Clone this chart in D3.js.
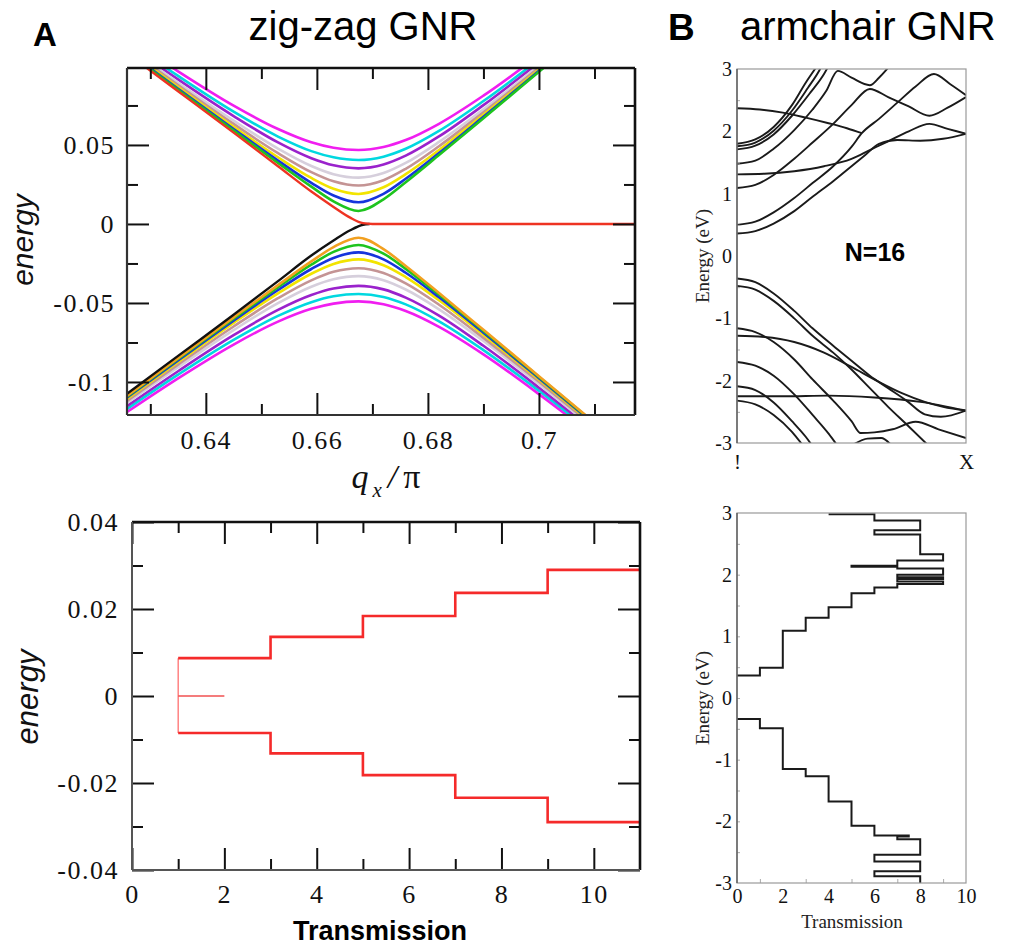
<!DOCTYPE html>
<html><head><meta charset="utf-8">
<script src="https://cdn.jsdelivr.net/npm/d3@7"></script>
<style>body{margin:0;background:#fff;}svg{display:block;}</style>
</head><body>
<svg id="c" width="1010" height="951"></svg>
<script>
// ---------- Panel A (top): zig-zag GNR band structure ----------
const zzQ = [0.6258, 0.635, 0.645, 0.653, 0.659, 0.663, 0.6675, 0.672, 0.676, 0.682, 0.690, 0.700, 0.710, 0.7173];
const cbGreen   = [0.1087,0.0849,0.0591,0.0386,0.0236,0.0143,0.0082,0.0156,0.0264,0.0436,0.0669,0.0963,0.1257,0.1471];
const cbBlue    = [0.1093,0.0856,0.0601,0.0401,0.0260,0.0180,0.0137,0.0191,0.0286,0.0449,0.0678,0.0969,0.1261,0.1475];
const cbYellow  = [0.1101,0.0866,0.0615,0.0422,0.0291,0.0223,0.0190,0.0232,0.0315,0.0468,0.0691,0.0978,0.1268,0.1481];
const cbBrown   = [0.1111,0.0879,0.0633,0.0448,0.0328,0.0270,0.0243,0.0277,0.0349,0.0492,0.0707,0.0989,0.1277,0.1489];
const cbLav     = [0.1123,0.0894,0.0654,0.0477,0.0367,0.0315,0.0293,0.0322,0.0386,0.0519,0.0726,0.1003,0.1288,0.1498];
const cbPurple  = [0.1140,0.0915,0.0683,0.0516,0.0416,0.0371,0.0352,0.0376,0.0432,0.0554,0.0752,0.1022,0.1302,0.1511];
const cbCyan    = [0.1157,0.0937,0.0711,0.0553,0.0461,0.0422,0.0405,0.0426,0.0476,0.0589,0.0778,0.1041,0.1318,0.1524];
const cbMagenta = [0.1181,0.0966,0.0749,0.0601,0.0517,0.0482,0.0468,0.0487,0.0531,0.0634,0.0812,0.1067,0.1338,0.1542];
const vbOrange  = [-0.1088,-0.0849,-0.0591,-0.0387,-0.0237,-0.0146,-0.0087,-0.0159,-0.0266,-0.0437,-0.0670,-0.0963,-0.1257,-0.1472];
const vbGreen   = [-0.1092,-0.0855,-0.0600,-0.0400,-0.0258,-0.0177,-0.0133,-0.0188,-0.0284,-0.0448,-0.0677,-0.0968,-0.1261,-0.1475];
const vbBlue    = [-0.1099,-0.0864,-0.0612,-0.0418,-0.0285,-0.0215,-0.0180,-0.0224,-0.0309,-0.0464,-0.0688,-0.0976,-0.1267,-0.1480];
const vbYellow  = [-0.1107,-0.0874,-0.0626,-0.0439,-0.0315,-0.0253,-0.0224,-0.0261,-0.0336,-0.0483,-0.0701,-0.0985,-0.1274,-0.1486];
const vbBrown   = [-0.1120,-0.0890,-0.0649,-0.0470,-0.0357,-0.0303,-0.0280,-0.0310,-0.0376,-0.0511,-0.0721,-0.0999,-0.1285,-0.1495];
const vbLav     = [-0.1133,-0.0907,-0.0672,-0.0501,-0.0397,-0.0350,-0.0330,-0.0356,-0.0415,-0.0540,-0.0741,-0.1014,-0.1297,-0.1506];
const vbPurple  = [-0.1153,-0.0932,-0.0704,-0.0544,-0.0450,-0.0409,-0.0392,-0.0414,-0.0466,-0.0580,-0.0771,-0.1036,-0.1314,-0.1520];
const vbCyan    = [-0.1171,-0.0954,-0.0734,-0.0582,-0.0495,-0.0458,-0.0443,-0.0462,-0.0509,-0.0616,-0.0798,-0.1056,-0.1330,-0.1534];
const vbMagenta = [-0.1190,-0.0977,-0.0763,-0.0618,-0.0537,-0.0504,-0.0490,-0.0508,-0.0551,-0.0651,-0.0825,-0.1077,-0.1346,-0.1549];
const edgeRedQ   = [0.6258,0.635,0.645,0.653,0.659,0.663,0.666,0.6683,0.670,0.7173];
const edgeRed    = [0.1080,0.0840,0.0578,0.0365,0.0205,0.0108,0.0040,0.0005,0,0];
const edgeBlackQ = [0.6258,0.635,0.645,0.653,0.659,0.663,0.666,0.6683,0.6695];
const edgeBlack  = [-0.1075,-0.0835,-0.0575,-0.0362,-0.0200,-0.0105,-0.0040,-0.0005,0];
const zzXMajor = [0.64,0.66,0.68,0.70];
const zzXLabels = ["0.64","0.66","0.68","0.7"];
const zzXMinor = [0.63,0.65,0.67,0.69,0.71];
const zzYMajor = [-0.1,-0.05,0,0.05];
const zzYLabels = ["-0.1","-0.05","0","0.05"];
const zzYMinor = [-0.075,-0.025,0.025,0.075];

// ---------- Panel A (bottom): zig-zag transmission ----------
const ztUpper = [[1,0.0087],[3,0.0087],[3,0.0136],[5,0.0136],[5,0.0184],[7,0.0184],[7,0.0237],[9,0.0237],[9,0.029],[11,0.029]];
const ztLower = [[1,-0.0085],[3,-0.0085],[3,-0.0132],[5,-0.0132],[5,-0.0182],[7,-0.0182],[7,-0.0234],[9,-0.0234],[9,-0.029],[11,-0.029]];
const ztRise  = [[1,-0.0085],[1,0.0087]];
const ztZero  = [[1,0],[2,0]];
const ztXMajor = [0,2,4,6,8,10];
const ztXLabels = ["0","2","4","6","8","10"];
const ztXMinor = [1,3,5,7,9];
const ztYMajor = [-0.04,-0.02,0,0.02,0.04];
const ztYLabels = ["-0.04","-0.02","0","0.02","0.04"];
const ztYMinor = [-0.03,-0.01,0.01,0.03];

// ---------- Panel B (top): armchair GNR bands, N=16 ----------
const acU1 = [[0,0.36],[0.08,0.40],[0.16,0.52],[0.25,0.72],[0.33,0.95],[0.42,1.20],[0.50,1.44],[0.56,1.62],[0.62,1.80],[0.70,1.86],[0.80,1.85],[0.90,1.88],[1.0,1.96]];
const acU2 = [[0,0.50],[0.08,0.55],[0.16,0.70],[0.25,0.93],[0.33,1.17],[0.42,1.44],[0.50,1.75],[0.545,1.97],[0.62,2.20],[0.70,2.46],[0.78,2.72],[0.86,2.92],[0.93,2.76],[1.0,2.58]];
const acU3 = [[0,1.09],[0.08,1.14],[0.16,1.30],[0.25,1.56],[0.33,1.82],[0.42,2.12],[0.50,2.42],[0.58,2.68],[0.66,2.55],[0.75,2.40],[0.84,2.25],[0.92,2.38],[1.0,2.55]];
const acU4 = [[0,1.31],[0.12,1.32],[0.25,1.36],[0.38,1.44],[0.50,1.56],[0.58,1.70],[0.66,1.84],[0.75,2.0],[0.84,2.12],[0.92,2.04],[1.0,1.96]];
const acU5 = [[0,1.48],[0.08,1.53],[0.16,1.72],[0.25,2.02],[0.33,2.35],[0.39,2.65],[0.44,2.97],[0.50,2.86],[0.58,2.74],[0.62,2.86],[0.66,3.02]];
const acU6 = [[0,1.71],[0.08,1.77],[0.16,1.95],[0.24,2.25],[0.32,2.62],[0.38,2.92],[0.40,3.05]];
const acU7 = [[0,1.76],[0.08,1.82],[0.16,2.01],[0.24,2.33],[0.31,2.70],[0.36,2.98],[0.37,3.05]];
const acU8 = [[0,1.80],[0.08,1.87],[0.16,2.07],[0.24,2.42],[0.30,2.78],[0.35,3.05]];
const acU9 = [[0,2.37],[0.10,2.35],[0.20,2.30],[0.30,2.22],[0.40,2.13],[0.48,2.05],[0.545,1.97]];
const acV1 = [[0,-0.36],[0.08,-0.42],[0.16,-0.60],[0.25,-0.88],[0.33,-1.16],[0.42,-1.44],[0.50,-1.68],[0.58,-1.92],[0.66,-2.12],[0.74,-2.32],[0.82,-2.54],[0.89,-2.58],[1.0,-2.48]];
const acV2 = [[0,-0.48],[0.08,-0.54],[0.16,-0.72],[0.25,-1.0],[0.33,-1.28],[0.42,-1.55],[0.50,-1.82],[0.58,-2.12],[0.66,-2.42],[0.74,-2.70],[0.83,-3.02]];
const acV3 = [[0,-1.16],[0.08,-1.22],[0.16,-1.38],[0.25,-1.66],[0.33,-1.98],[0.42,-2.32],[0.50,-2.65],[0.54,-2.84],[0.60,-2.83],[0.68,-2.78],[0.78,-2.66],[0.88,-2.78],[1.0,-2.92]];
const acV4 = [[0,-1.28],[0.12,-1.30],[0.25,-1.38],[0.38,-1.55],[0.50,-1.78],[0.62,-2.02],[0.72,-2.20],[0.82,-2.34],[0.90,-2.42],[1.0,-2.48]];
const acV5 = [[0,-1.70],[0.08,-1.76],[0.16,-1.92],[0.25,-2.22],[0.33,-2.55],[0.40,-2.85],[0.44,-3.05]];
const acV6 = [[0,-2.09],[0.08,-2.15],[0.16,-2.35],[0.24,-2.65],[0.30,-2.90],[0.33,-3.05]];
const acV7 = [[0,-2.25],[0.20,-2.25],[0.40,-2.24],[0.60,-2.27],[0.80,-2.34],[1.0,-2.48]];
const acV8 = [[0,-2.32],[0.08,-2.38],[0.16,-2.55],[0.24,-2.82],[0.29,-3.05]];
const acV9 = [[0.51,-3.02],[0.57,-2.93],[0.63,-2.92],[0.67,-3.02]];
const acYTicks = [-3,-2,-1,0,1,2,3];
const acYLabels = ["-3","-2","-1","0","1","2","3"];
const acXTicks = [0,1];
const acXLabels = ["!","X"];

// ---------- Panel B (bottom): armchair transmission ----------
const trUpper = [[0,0.364],[1,0.364],[1,0.49],[2,0.49],[2,1.09],[3,1.09],[3,1.30],[4,1.30],[4,1.47],[5,1.47],[5,1.70],[6,1.70],[6,1.79],[7,1.79],[7,1.85],[9,1.85],[9,1.89],[7,1.89],[7,1.93],[9,1.93],[9,1.96],[7,1.96],[7,2.0],[9,2.0],[9,2.10],[7,2.10],[7,2.13],[5,2.13],[5,2.145],[7,2.145],[7,2.23],[9,2.23],[9,2.33],[8,2.33],[8,2.65],[6,2.65],[6,2.72],[8,2.72],[8,2.88],[6,2.88],[6,2.98],[4,2.98]];
const trLower = [[0,-0.34],[1,-0.34],[1,-0.49],[2,-0.49],[2,-1.15],[3,-1.15],[3,-1.27],[4,-1.27],[4,-1.68],[5,-1.68],[5,-2.07],[6,-2.07],[6,-2.23],[7.5,-2.23],[7.5,-2.245],[7,-2.245],[7,-2.29],[8,-2.29],[8,-2.54],[6,-2.54],[6,-2.65],[8,-2.65],[8,-2.81],[6,-2.81],[6,-2.89],[8,-2.89],[8,-3.0]];
const trXTicks = [0,2,4,6,8,10];
const trXLabels = ["0","2","4","6","8","10"];
const trXMinor = [1,3,5,7,9];
const trYTicks = [-3,-2,-1,0,1,2,3];
const trYLabels = ["-3","-2","-1","0","1","2","3"];

// ================= drawing =================
const svg = d3.select("#c");
const SERIF = "'Liberation Serif','Times New Roman',serif";
const SANS = "'Liberation Sans',Arial,sans-serif";

function clipRect(id, x0, y0, x1, y1){
  svg.append("clipPath").attr("id", id).append("rect")
    .attr("x", x0).attr("y", y0).attr("width", x1 - x0).attr("height", y1 - y0);
}
function axisG(axis, tx, ty){
  const g = svg.append("g").attr("transform", `translate(${tx},${ty})`).call(axis);
  g.select(".domain").remove();
  return g;
}
function styleTicks(g, color, width){
  g.selectAll(".tick line").attr("stroke", color).attr("stroke-width", width);
}
function styleText(g, family, size, extra){
  g.selectAll("text").attr("font-family", family).attr("font-size", size).attr("fill", "#111");
  if (extra) g.selectAll("text").attr("letter-spacing", extra);
}

// ---- Panel A top ----
const xA = d3.scaleLinear().domain([0.6258, 0.7173]).range([127, 635]);
const yA = d3.scaleLinear().domain([-0.1209, 0.0987]).range([415, 68]);
clipRect("clipA", 127, 68, 635, 415);
const bandSeries = [
  {v: cbMagenta, c: "#f01ef0"}, {v: cbCyan, c: "#00d8e0"}, {v: cbPurple, c: "#9a22cc"},
  {v: cbLav, c: "#d6cfdc"}, {v: cbBrown, c: "#c49494"}, {v: cbYellow, c: "#f2e400"},
  {v: cbBlue, c: "#1634dc"}, {v: cbGreen, c: "#1ec41e"},
  {v: vbMagenta, c: "#f01ef0"}, {v: vbCyan, c: "#00d8e0"}, {v: vbPurple, c: "#9a22cc"},
  {v: vbLav, c: "#d6cfdc"}, {v: vbBrown, c: "#c49494"}, {v: vbYellow, c: "#f2e400"},
  {v: vbBlue, c: "#1634dc"}, {v: vbGreen, c: "#1ec41e"}, {v: vbOrange, c: "#f2a020"}
];
const lineA = d3.line().x(d => xA(d[0])).y(d => yA(d[1])).curve(d3.curveMonotoneX);
const gA = svg.append("g").attr("clip-path", "url(#clipA)");
bandSeries.forEach(s => {
  gA.append("path").datum(zzQ.map((q, i) => [q, s.v[i]]))
    .attr("d", lineA).attr("fill", "none").attr("stroke", s.c).attr("stroke-width", 2.6);
});
gA.append("path").datum(edgeBlackQ.map((q, i) => [q, edgeBlack[i]]))
  .attr("d", lineA).attr("fill", "none").attr("stroke", "#111").attr("stroke-width", 2.4);
gA.append("path").datum(edgeRedQ.map((q, i) => [q, edgeRed[i]]))
  .attr("d", lineA).attr("fill", "none").attr("stroke", "#ee3322").attr("stroke-width", 2.4);

let g;
g = axisG(d3.axisLeft(yA).tickValues(zzYMajor).tickSize(-22).tickPadding(12).tickFormat((d, i) => zzYLabels[i]), 127, 0);
styleTicks(g, "#111", 2); styleText(g, SERIF, 26, 1.5);
g = axisG(d3.axisLeft(yA).tickValues(zzYMinor).tickSize(-11).tickFormat(""), 127, 0); styleTicks(g, "#111", 2);
g = axisG(d3.axisRight(yA).tickValues(zzYMajor).tickSize(-22).tickFormat(""), 635, 0); styleTicks(g, "#111", 2);
g = axisG(d3.axisRight(yA).tickValues(zzYMinor).tickSize(-11).tickFormat(""), 635, 0); styleTicks(g, "#111", 2);
g = axisG(d3.axisBottom(xA).tickValues(zzXMajor).tickSize(-22).tickPadding(16).tickFormat((d, i) => zzXLabels[i]), 0, 415);
styleTicks(g, "#111", 2); styleText(g, SERIF, 26, 1.5);
g = axisG(d3.axisBottom(xA).tickValues(zzXMinor).tickSize(-11).tickFormat(""), 0, 415); styleTicks(g, "#111", 2);
g = axisG(d3.axisTop(xA).tickValues(zzXMajor).tickSize(-22).tickFormat(""), 0, 68); styleTicks(g, "#111", 2);
g = axisG(d3.axisTop(xA).tickValues(zzXMinor).tickSize(-11).tickFormat(""), 0, 68); styleTicks(g, "#111", 2);

function frame(x0, y0, x1, y1, cTR, wTR, cLB, wLB){
  svg.append("line").attr("x1", x0).attr("y1", y0).attr("x2", x1).attr("y2", y0).attr("stroke", cTR).attr("stroke-width", wTR);
  svg.append("line").attr("x1", x1).attr("y1", y0).attr("x2", x1).attr("y2", y1).attr("stroke", cTR).attr("stroke-width", wTR);
  svg.append("line").attr("x1", x0).attr("y1", y0).attr("x2", x0).attr("y2", y1).attr("stroke", cLB).attr("stroke-width", wLB);
  svg.append("line").attr("x1", x0).attr("y1", y1).attr("x2", x1).attr("y2", y1).attr("stroke", cLB).attr("stroke-width", wLB);
}
frame(127, 68, 635, 415, "#111", 2.6, "#333", 2.2);

svg.append("text").attr("transform", "translate(33,240) rotate(-90)").attr("text-anchor", "middle")
  .attr("font-family", SANS).attr("font-style", "italic").attr("font-size", 30).attr("fill", "#111").text("energy");
const qt = svg.append("text").attr("x", 386).attr("y", 488).attr("text-anchor", "middle")
  .attr("font-family", SERIF).attr("font-size", 34).attr("fill", "#111");
qt.append("tspan").attr("font-style", "italic").text("q");
qt.append("tspan").attr("font-style", "italic").attr("font-size", 21).attr("dy", 9).attr("dx", 4).text("x");
qt.append("tspan").attr("font-style", "italic").attr("dy", -9).attr("dx", 6).text("/");
qt.append("tspan").attr("dx", 6).text("π");

// ---- Panel A bottom ----
const xT = d3.scaleLinear().domain([0, 11]).range([132, 640]);
const yT = d3.scaleLinear().domain([-0.04, 0.04]).range([870, 522]);
clipRect("clipT", 132, 522, 640, 870);
const lineT = d3.line().x(d => xT(d[0])).y(d => yT(d[1]));
const gT = svg.append("g").attr("clip-path", "url(#clipT)");
gT.append("path").datum(ztRise).attr("d", lineT).attr("fill", "none").attr("stroke", "#ff7070").attr("stroke-width", 1.3);
gT.append("path").datum(ztZero).attr("d", lineT).attr("fill", "none").attr("stroke", "#f05050").attr("stroke-width", 1.6);
gT.append("path").datum(ztUpper).attr("d", lineT).attr("fill", "none").attr("stroke", "#f52a2a").attr("stroke-width", 2.6);
gT.append("path").datum(ztLower).attr("d", lineT).attr("fill", "none").attr("stroke", "#f52a2a").attr("stroke-width", 2.6);

g = axisG(d3.axisLeft(yT).tickValues(ztYMajor).tickSize(-22).tickPadding(13).tickFormat((d, i) => ztYLabels[i]), 132, 0);
styleTicks(g, "#111", 2); styleText(g, SERIF, 26, 1.5);
g = axisG(d3.axisLeft(yT).tickValues(ztYMinor).tickSize(-11).tickFormat(""), 132, 0); styleTicks(g, "#111", 2);
g = axisG(d3.axisRight(yT).tickValues(ztYMajor).tickSize(-22).tickFormat(""), 640, 0); styleTicks(g, "#111", 2);
g = axisG(d3.axisRight(yT).tickValues(ztYMinor).tickSize(-11).tickFormat(""), 640, 0); styleTicks(g, "#111", 2);
g = axisG(d3.axisBottom(xT).tickValues(ztXMajor).tickSize(-22).tickPadding(15).tickFormat((d, i) => ztXLabels[i]), 0, 870);
styleTicks(g, "#111", 2); styleText(g, SERIF, 26, 1.5);
g = axisG(d3.axisBottom(xT).tickValues(ztXMinor).tickSize(-11).tickFormat(""), 0, 870); styleTicks(g, "#111", 2);
g = axisG(d3.axisTop(xT).tickValues(ztXMajor).tickSize(-22).tickFormat(""), 0, 522); styleTicks(g, "#111", 2);
g = axisG(d3.axisTop(xT).tickValues(ztXMinor).tickSize(-11).tickFormat(""), 0, 522); styleTicks(g, "#111", 2);
frame(132, 522, 640, 870, "#111", 2.6, "#555", 2);

svg.append("text").attr("transform", "translate(38,697) rotate(-90)").attr("text-anchor", "middle")
  .attr("font-family", SANS).attr("font-style", "italic").attr("font-size", 31).attr("fill", "#111").text("energy");
svg.append("text").attr("x", 380).attr("y", 940).attr("text-anchor", "middle")
  .attr("font-family", SANS).attr("font-weight", "bold").attr("font-size", 27).attr("fill", "#000").text("Transmission");

// ---- Panel B top ----
const xB = d3.scaleLinear().domain([0, 1]).range([737, 966]);
const yB = d3.scaleLinear().domain([-3, 3]).range([443, 69]);
clipRect("clipB", 737, 69, 966, 443);
const lineB = d3.line().x(d => xB(d[0])).y(d => yB(d[1])).curve(d3.curveMonotoneX);
const gB = svg.append("g").attr("clip-path", "url(#clipB)");
[acU1, acU2, acU3, acU4, acU5, acU6, acU7, acU8, acU9, acV1, acV2, acV3, acV4, acV5, acV6, acV7, acV8, acV9].forEach(b => {
  gB.append("path").datum(b).attr("d", lineB).attr("fill", "none").attr("stroke", "#1a1a1a").attr("stroke-width", 1.9);
});
g = axisG(d3.axisLeft(yB).tickValues(acYTicks).tickSize(0).tickPadding(5).tickFormat((d, i) => acYLabels[i]), 737, 0);
styleText(g, SERIF, 20);
g = axisG(d3.axisLeft(yB).tickValues(d3.range(-2.5, 3, 1)).tickSize(-3).tickFormat(""), 737, 0); styleTicks(g, "#aaa", 1);
g = axisG(d3.axisBottom(xB).tickValues(acXTicks).tickSize(0).tickPadding(11).tickFormat((d, i) => acXLabels[i]), 0, 443);
styleText(g, SERIF, 21);
svg.append("rect").attr("x", 737).attr("y", 69).attr("width", 229).attr("height", 374)
  .attr("fill", "none").attr("stroke", "#999").attr("stroke-width", 1.2);
svg.append("line").attr("x1", 737).attr("y1", 69).attr("x2", 737).attr("y2", 443).attr("stroke", "#555").attr("stroke-width", 1.3);
svg.append("text").attr("transform", "translate(709,256) rotate(-90)").attr("text-anchor", "middle")
  .attr("font-family", SERIF).attr("font-size", 19).attr("fill", "#222").text("Energy (eV)");
svg.append("text").attr("x", 875).attr("y", 261).attr("text-anchor", "middle")
  .attr("font-family", SANS).attr("font-weight", "bold").attr("font-size", 25).attr("fill", "#000").text("N=16");

// ---- Panel B bottom ----
const xC = d3.scaleLinear().domain([0, 10]).range([737, 966]);
const yC = d3.scaleLinear().domain([-3, 3]).range([883, 513]);
clipRect("clipC", 736, 512, 967, 884);
const lineC = d3.line().x(d => xC(d[0])).y(d => yC(d[1]));
const gC = svg.append("g").attr("clip-path", "url(#clipC)");
[trUpper, trLower].forEach(p => {
  gC.append("path").datum(p).attr("d", lineC).attr("fill", "none").attr("stroke", "#1a1a1a").attr("stroke-width", 2);
});
g = axisG(d3.axisLeft(yC).tickValues(trYTicks).tickSize(0).tickPadding(5).tickFormat((d, i) => trYLabels[i]), 737, 0);
styleText(g, SERIF, 20);
g = axisG(d3.axisLeft(yC).tickValues(d3.range(-2.5, 3, 0.5)).tickSize(-3).tickFormat(""), 737, 0); styleTicks(g, "#aaa", 1);
g = axisG(d3.axisBottom(xC).tickValues(trXTicks).tickSize(0).tickPadding(6).tickFormat((d, i) => trXLabels[i]), 0, 883);
styleText(g, SERIF, 20);
g = axisG(d3.axisBottom(xC).tickValues(trXMinor).tickSize(-4).tickFormat(""), 0, 883); styleTicks(g, "#aaa", 1);
svg.append("rect").attr("x", 737).attr("y", 513).attr("width", 229).attr("height", 370)
  .attr("fill", "none").attr("stroke", "#999").attr("stroke-width", 1.2);
svg.append("line").attr("x1", 737).attr("y1", 513).attr("x2", 737).attr("y2", 883).attr("stroke", "#555").attr("stroke-width", 1.3);
svg.append("text").attr("transform", "translate(709,698) rotate(-90)").attr("text-anchor", "middle")
  .attr("font-family", SERIF).attr("font-size", 19).attr("fill", "#222").text("Energy (eV)");
svg.append("text").attr("x", 852).attr("y", 928).attr("text-anchor", "middle")
  .attr("font-family", SERIF).attr("font-size", 19).attr("fill", "#222").text("Transmission");

// ---- headers ----
svg.append("text").attr("x", 33).attr("y", 46).attr("font-family", SANS).attr("font-weight", "bold")
  .attr("font-size", 33).attr("fill", "#000").text("A");
svg.append("text").attr("x", 363).attr("y", 40).attr("text-anchor", "middle").attr("font-family", SANS)
  .attr("font-size", 40).attr("fill", "#000").text("zig-zag GNR");
svg.append("text").attr("x", 668).attr("y", 40).attr("font-family", SANS).attr("font-weight", "bold")
  .attr("font-size", 37).attr("fill", "#000").text("B");
svg.append("text").attr("x", 740).attr("y", 40).attr("font-family", SANS)
  .attr("font-size", 40).attr("fill", "#000").text("armchair GNR");
</script>
</body></html>
